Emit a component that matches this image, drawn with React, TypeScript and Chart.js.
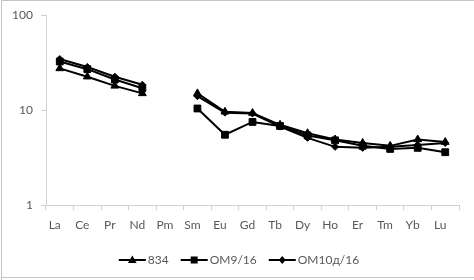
import React, { useEffect, useRef } from "react";
import { Chart, registerables } from "chart.js";

Chart.register(...registerables);

const categories = ["La", "Ce", "Pr", "Nd", "Pm", "Sm", "Eu", "Gd", "Tb", "Dy", "Ho", "Er", "Tm", "Yb", "Lu"];
const series834 = [27.5, 22.5, 18, 15, null, 15, 9.6, 9.3, 7.0, 5.7, 4.9, 4.5, 4.2, 4.9, 4.6];
const seriesOM9 = [32.5, 27, 21, 17, null, 10.4, 5.5, 7.5, 6.8, 5.4, 4.8, 4.2, 3.9, 4.0, 3.6];
const seriesOM10 = [34.5, 28.5, 22.5, 18.5, null, 14, 9.4, 9.2, 6.7, 5.1, 4.1, 4.0, 4.1, 4.3, 4.5];
const yTicks = [1, 10, 100];
const seriesNames = ["834", "OM9/16", "OM10д/16"];

const FONT = "Lato";
const TEXT = "#595959";
const AXIS = "#d0d0d0";

function drawMarker(ctx: CanvasRenderingContext2D, style: string, x: number, y: number) {
  ctx.beginPath();
  if (style === "triangle") {
    ctx.moveTo(x, y - 4.5);
    ctx.lineTo(x + 4.3, y + 3);
    ctx.lineTo(x - 4.3, y + 3);
  } else if (style === "rect") {
    ctx.rect(x - 3.5, y - 3.5, 7, 7);
  } else {
    ctx.moveTo(x, y - 4);
    ctx.lineTo(x + 3.5, y);
    ctx.lineTo(x, y + 4);
    ctx.lineTo(x - 3.5, y);
  }
  ctx.closePath();
  ctx.fill();
}

const styles = ["triangle", "rect", "rectRot"];

const legendPlugin = {
  id: "customLegend",
  afterDraw(chart: any) {
    const ctx = chart.ctx as CanvasRenderingContext2D;
    ctx.save();
    ctx.font = `12px ${FONT}`;
    const lineW = 27;
    const gap = 12;
    const widths = seriesNames.map((n) => lineW + 2 + ctx.measureText(n).width);
    const total = widths.reduce((a, b) => a + b, 0) + gap * (seriesNames.length - 1);
    let x = chart.width / 2 + 2 - total / 2;
    const y = 260;
    seriesNames.forEach((n, i) => {
      ctx.strokeStyle = "#000";
      ctx.fillStyle = "#000";
      ctx.lineWidth = 2;
      ctx.beginPath();
      ctx.moveTo(x, y);
      ctx.lineTo(x + lineW, y);
      ctx.stroke();
      drawMarker(ctx, styles[i], x + lineW / 2, y);
      ctx.fillStyle = TEXT;
      ctx.textBaseline = "middle";
      ctx.textAlign = "left";
      ctx.fillText(n, x + lineW + 2, y);
      x += widths[i] + gap;
    });
    // outer frame
    ctx.strokeStyle = "#c4c4c4";
    ctx.lineWidth = 1;
    ctx.beginPath();
    ctx.moveTo(1.5, 280);
    ctx.lineTo(1.5, 0.5);
    ctx.lineTo(474, 0.5);
    ctx.moveTo(1.5, 277.5);
    ctx.lineTo(474, 277.5);
    ctx.stroke();
    ctx.restore();
  },
};

export default function App() {
  const ref = useRef<HTMLCanvasElement>(null);
  useEffect(() => {
    if (!ref.current) return;
    const mk = (label: string, data: (number | null)[], style: string, r: number) => ({
      label,
      data,
      borderColor: "#000",
      backgroundColor: "#000",
      borderWidth: 2,
      pointStyle: style,
      pointRadius: r,
      pointBorderWidth: 1,
      pointBackgroundColor: "#000",
      pointBorderColor: "#000",
      spanGaps: false,
      tension: 0,
    });
    const chart = new Chart(ref.current, {
      type: "line",
      data: {
        labels: categories,
        datasets: [
          mk(seriesNames[0], series834, "triangle", 4.5),
          mk(seriesNames[1], seriesOM9, "rect", 4.8),
          mk(seriesNames[2], seriesOM10, "rectRot", 3.5),
        ],
      },
      plugins: [legendPlugin],
      options: {
        animation: false,
        responsive: false,
        maintainAspectRatio: false,
        layout: { padding: { top: 14, right: 15, bottom: 45, left: 0 } },
        plugins: { legend: { display: false }, tooltip: { enabled: false } },
        scales: {
          x: {
            type: "category",
            offset: true,
            grid: { offset: true, drawOnChartArea: false, drawTicks: true, tickLength: 5, color: AXIS },
            border: { color: AXIS, width: 1 },
            ticks: { color: TEXT, font: { family: FONT, size: 12 }, padding: 8, labelOffset: -5, maxRotation: 0, autoSkip: false },
            afterFit: (s: any) => { s.height = 30; },
          },
          y: {
            type: "logarithmic",
            min: 1,
            max: 100,
            afterBuildTicks: (s: any) => { s.ticks = yTicks.map((v) => ({ value: v })); },
            grid: { drawOnChartArea: false, drawTicks: true, tickLength: 5, color: AXIS },
            border: { color: AXIS, width: 1 },
            ticks: { color: TEXT, font: { family: FONT, size: 12 }, padding: 8, callback: (v: any) => String(v) },
            afterFit: (s: any) => { s.width = 46; },
          },
        },
      },
    });
    return () => chart.destroy();
  }, []);
  return (
    <div style={{ position: "absolute", left: 0, top: 0, width: 474, height: 280, background: "#fff" }}>
      <canvas ref={ref} width={474} height={280} style={{ display: "block" }} />
    </div>
  );
}
